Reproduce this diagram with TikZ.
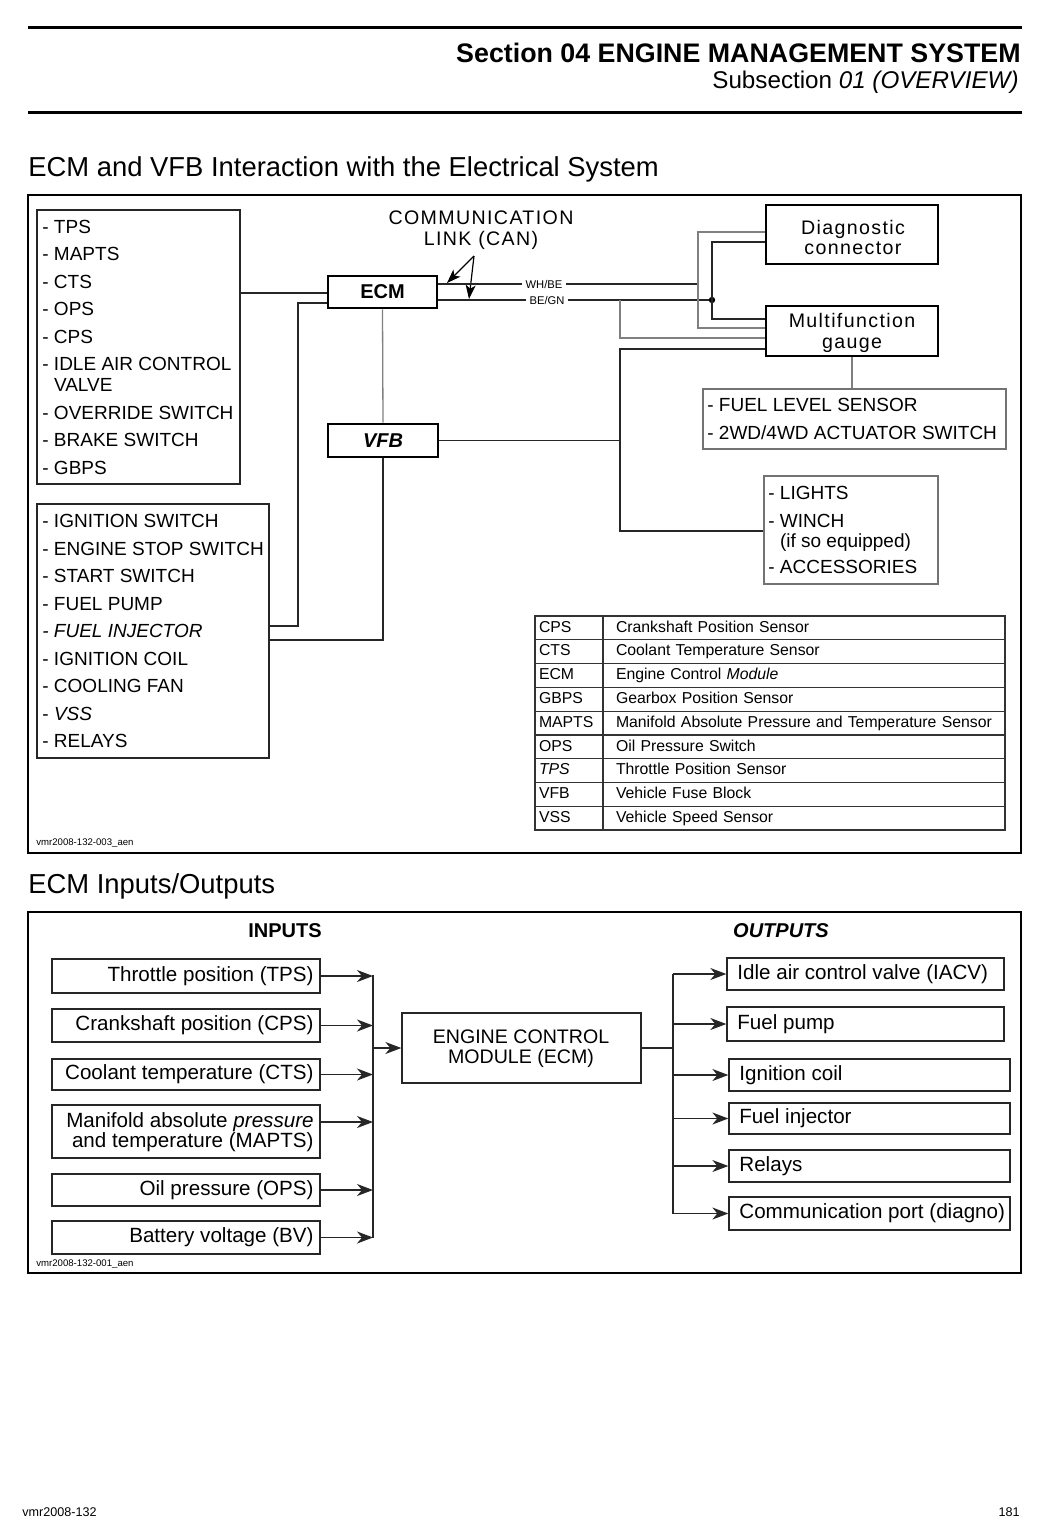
\documentclass[tikz,border=0pt]{standalone}
\usepackage{fontspec}
\setmainfont{Liberation Sans}
\newfontfamily\spacedfont[LetterSpace=7]{Liberation Sans}
\usetikzlibrary{fit,arrows.meta,calc}
\begin{document}
\begin{tikzpicture}[x=0.5pt,y=-0.5pt,
  every node/.style={inner sep=0pt},
  frame/.style={draw, line width=1pt, inner sep=0pt},
  thinbox/.style={draw=black!85, line width=0.65pt, inner sep=0pt},
  graybox/.style={draw=black!55, line width=0.65pt, inner sep=0pt},
  thickbox/.style={draw, line width=1.3pt, inner sep=0pt},
  wire/.style={line width=0.65pt, draw=black!85},
  graywire/.style={line width=0.65pt, draw=black!50},
  arr/.style={wire, -{Stealth[length=8pt,width=6pt,inset=2.5pt]}},
  canarr/.style={line width=0.6pt, -{Stealth[length=7pt,width=5pt,inset=1.8pt]}},
  boxtxt/.style={anchor=west, align=left, font=\fontsize{9.5}{13.75}\selectfont},
  iotxt/.style={font=\fontsize{10.3}{10}\selectfont},
  cellA/.style={draw=black!80, line width=0.6pt, minimum width=34pt, minimum height=11.89pt,
     text width=30pt, align=left, inner xsep=2pt, inner ysep=0pt, text height=5.8pt, text depth=1.6pt,
     font=\fontsize{7.9}{9}\selectfont},
  cellB/.style={draw=black!80, line width=0.6pt, minimum width=201pt, minimum height=11.89pt,
     text width=195pt, align=left, inner xsep=3pt, inner ysep=0pt, text height=5.8pt, text depth=1.6pt,
     font=\fontsize{7.9}{9}\selectfont}
]
\fill[white] (0,0) rectangle (1045,1533);
\useasboundingbox (0,0) rectangle (1045,1533);

% ---------- header ----------
\coordinate (r1a) at (28,27); \coordinate (r1b) at (1022,27);
\draw[line width=1.5pt] (r1a) -- (r1b);
\node[anchor=base east, font=\bfseries\fontsize{13.4}{15}\selectfont] (sec) at (1021,62) {Section 04 ENGINE MANAGEMENT SYSTEM};
\node[anchor=base east, font=\fontsize{12.1}{13}\selectfont] (subsec) at (1019,88) {Subsection \textit{01 (OVERVIEW)}};
\coordinate (r2a) at (28,112); \coordinate (r2b) at (1022,112);
\draw[line width=1.5pt] (r2a) -- (r2b);

% ---------- part 1 ----------
\node[anchor=base west, font=\fontsize{13.7}{16}\selectfont] (title1) at (28,176) {ECM and VFB Interaction with the Electrical System};
\node[frame, fit={(28,195)(1021,853)}] (f1) {};

\node[thinbox, fit={(37,210)(240,484)}] (b1) {};
\node[boxtxt] (b1t) at (42,347) {- TPS\\- MAPTS\\- CTS\\- OPS\\- CPS\\- IDLE AIR CONTROL\\[-3.25pt]\phantom{- }VALVE\\- OVERRIDE SWITCH\\- BRAKE SWITCH\\- GBPS};

\node[thinbox, fit={(37,504)(269,758)}] (b2) {};
\node[boxtxt] (b2t) at (42,631) {- IGNITION SWITCH\\- ENGINE STOP SWITCH\\- START SWITCH\\- FUEL PUMP\\\textit{- FUEL INJECTOR}\\- IGNITION COIL\\- COOLING FAN\\- \textit{VSS}\\- RELAYS};

\node[thickbox, fit={(328,276)(437,308)}] (ecm) {};
\node[font=\bfseries\fontsize{10}{12}\selectfont] (ecmt) at (ecm.center) {ECM};
\node[thickbox, fit={(328,424)(438,457)}] (vfb) {};
\node[font=\bfseries\itshape\fontsize{10}{12}\selectfont] (vfbt) at (vfb.center) {VFB};

\node[align=center, font=\spacedfont\fontsize{9.8}{10.5}\selectfont] (comm) at (481,230) {COMMUNICATION\\LINK (CAN)};
\coordinate (canA) at (474,256);
\coordinate (can1) at (447,283);
\coordinate (can2) at (469,299);
\draw[canarr] (canA) -- (can1);
\draw[canarr] (canA) -- (can2);

\node[inner xsep=1.5pt, font=\fontsize{5.6}{6}\selectfont] (whbe) at (544,284) {WH/BE};
\node[inner xsep=1.5pt, font=\fontsize{5.6}{6}\selectfont] (begn) at (547,300) {BE/GN};

\node[thickbox, fit={(766,205)(938,264)}] (diag) {};
\node[align=center, font=\spacedfont\fontsize{9.8}{10}\selectfont] (diagt) at (853,237) {Diagnostic\\connector};
\node[thickbox, fit={(766,306)(938,356)}] (mfg) {};
\node[align=center, font=\spacedfont\fontsize{9.8}{10.5}\selectfont] (mfgt) at (852,333) {Multifunction\\gauge};

\node[graybox, fit={(703,389)(1006,449)}] (fuel) {};
\node[boxtxt, font=\fontsize{9.5}{14}\selectfont] (fuelt) at (707,419) {- FUEL LEVEL SENSOR\\- 2WD/4WD ACTUATOR SWITCH};

\node[graybox, fit={(764,476)(938,584)}] (lights) {};
\node[boxtxt, font=\fontsize{9.5}{14}\selectfont] (lightst) at (768,530) {- LIGHTS\\- WINCH\\[-4pt]\phantom{- }(if so equipped)\\[-1pt]- ACCESSORIES};

% wires
\draw[wire] (b1.east |- 0,293) -- (ecm.west |- 0,293);
\draw[wire] (ecm.west |- 0,303) -| (298,626) -- (b2.east |- 0,626);
\draw[wire] (vfb.south) |- (b2.east |- 0,640);
\draw[graywire] (ecm.south) -- (vfb.north);
\draw[wire] (ecm.east |- whbe.west) -- (whbe.west);
\draw[wire] (whbe.east) -- (698,284);
\draw[wire] (ecm.east |- begn.west) -- (begn.west);
\draw[wire] (begn.east) -- (712,300);
\fill (712,300) circle (1.6pt);
\draw[graywire] (diag.west |- 0,232) -| (698,328) -- (mfg.west |- 0,328);
\draw[wire] (diag.west |- 0,242) -| (712,319) -- (mfg.west |- 0,319);
\draw[graywire] (620,300) |- (mfg.west |- 0,338);
\draw[wire] (vfb.east) -| (620,349) -- (mfg.west |- 0,349);
\draw[wire] (620,441) |- (lights.west |- 0,531);
\draw[graywire] (mfg.south) -- (mfg.south |- fuel.north);

% table
\foreach \ab/\de [count=\i] in {CPS/Crankshaft Position Sensor, CTS/Coolant Temperature Sensor, ECM/{Engine Control \textit{Module}}, GBPS/Gearbox Position Sensor, MAPTS/Manifold Absolute Pressure and Temperature Sensor, OPS/Oil Pressure Switch, \textit{TPS}/Throttle Position Sensor, VFB/Vehicle Fuse Block, VSS/Vehicle Speed Sensor}{
  \node[cellA] (ta\i) at (569,{616+23.78*(\i-0.5)}) {\ab};
  \node[cellB] (tb\i) at (804,{616+23.78*(\i-0.5)}) {\hspace*{3.5pt}\de};
}

\node[anchor=west, font=\fontsize{4.8}{5}\selectfont] (ref1) at (36,843) {vmr2008-132-003\_aen};

% ---------- part 2 ----------
\node[anchor=base west, font=\fontsize{13.7}{16}\selectfont] (title2) at (28,893) {ECM Inputs/Outputs};
\node[frame, fit={(28,912)(1021,1273)}] (f2) {};
\node[font=\bfseries\fontsize{10}{12}\selectfont] (inputs) at (285,931) {INPUTS};
\node[font=\bfseries\itshape\fontsize{10}{12}\selectfont] (outputs) at (781,931) {OUTPUTS};

\node[thinbox, fit={(52,959)(320,993)}] (i1) {};
\node[thinbox, fit={(52,1009)(320,1042)}] (i2) {};
\node[thinbox, fit={(52,1059)(320,1090)}] (i3) {};
\node[thinbox, fit={(52,1105)(320,1158)}] (i4) {};
\node[thinbox, fit={(52,1174)(320,1206)}] (i5) {};
\node[thinbox, fit={(52,1221)(320,1254)}] (i6) {};
\node[iotxt, anchor=east] (i1t) at (314,976) {Throttle position (TPS)};
\node[iotxt, anchor=east] (i2t) at (314,1025.5) {Crankshaft position (CPS)};
\node[iotxt, anchor=east] (i3t) at (314,1074.5) {Coolant temperature (CTS)};
\node[iotxt, anchor=east, align=right] (i4t) at (314,1132) {Manifold absolute \textit{pressure}\\and temperature (MAPTS)};
\node[iotxt, anchor=east] (i5t) at (314,1190) {Oil pressure (OPS)};
\node[iotxt, anchor=east] (i6t) at (314,1237.5) {Battery voltage (BV)};

\coordinate (busLt) at (373,975);
\coordinate (busLb) at (373,1238);
\draw[wire] (busLt) -- (busLb);
\draw[arr] (i1.east) -- (busLt |- i1.east);
\draw[arr] (i2.east) -- (busLt |- i2.east);
\draw[arr] (i3.east) -- (busLt |- i3.east);
\draw[arr] (i4.east |- 0,1122) -- (busLt |- 0,1122);
\draw[arr] (i5.east) -- (busLt |- i5.east);
\draw[arr] (i6.east) -- (busLt |- i6.east);

\node[thinbox, fit={(402,1013)(641,1083)}] (ecm2) {};
\node[align=center, font=\fontsize{9.8}{10}\selectfont] (ecm2t) at (521,1049) {ENGINE CONTROL\\MODULE (ECM)};
\draw[arr] (busLt |- ecm2.west) -- (ecm2.west);

\node[thinbox, fit={(727,958)(1004,990)}] (o1) {};
\node[thinbox, fit={(727,1007)(1004,1041)}] (o2) {};
\node[thinbox, fit={(729,1059)(1010,1091)}] (o3) {};
\node[thinbox, fit={(729,1103)(1010,1134)}] (o4) {};
\node[thinbox, fit={(729,1150)(1010,1182)}] (o5) {};
\node[thinbox, fit={(729,1197)(1010,1230)}] (o6) {};
\node[iotxt, anchor=west] (o1t) at (737,974) {Idle air control valve (IACV)};
\node[iotxt, anchor=west] (o2t) at (737,1024) {Fuel pump};
\node[iotxt, anchor=west] (o3t) at (739,1075) {Ignition coil};
\node[iotxt, anchor=west] (o4t) at (739,1118.5) {Fuel injector};
\node[iotxt, anchor=west] (o5t) at (739,1166) {Relays};
\node[iotxt, anchor=west] (o6t) at (739,1213.5) {Communication port (diagno)};

\coordinate (busRt) at (673,974);
\coordinate (busRb) at (673,1213.5);
\draw[wire] (ecm2.east) -- (busRt |- ecm2.east);
\draw[wire] (busRt) -- (busRb);
\draw[arr] (busRt) -- (o1.west);
\draw[arr] (busRt |- o2.west) -- (o2.west);
\draw[arr] (busRt |- o3.west) -- (o3.west);
\draw[arr] (busRt |- o4.west) -- (o4.west);
\draw[arr] (busRt |- o5.west) -- (o5.west);
\draw[arr] (busRb) -- (o6.west);

\node[anchor=west, font=\fontsize{4.8}{5}\selectfont] (ref2) at (36,1264) {vmr2008-132-001\_aen};

% ---------- footer ----------
\node[anchor=west, font=\fontsize{6.3}{7}\selectfont] (foot1) at (22,1512) {vmr2008-132};
\node[anchor=east, font=\fontsize{6.3}{7}\selectfont] (foot2) at (1020,1512) {181};
\end{tikzpicture}
\end{document}
